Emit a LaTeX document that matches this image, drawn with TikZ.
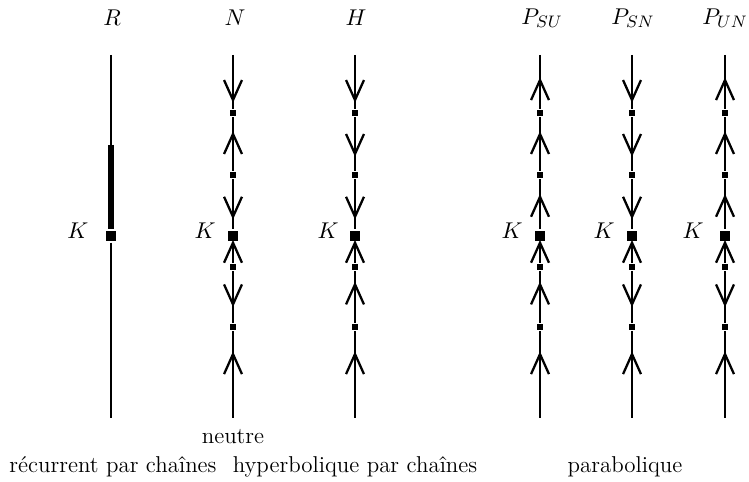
\documentclass[tikz,border=0pt]{standalone}
\usepackage{amsmath}
\usepackage{amsfonts}
\usetikzlibrary{decorations.markings}

\tikzset{
  dn/.style={postaction={decorate, decoration={markings, mark=at position #1 with {\draw[line width=1.1pt] (-4.8pt, 4.3pt) -- (4.8pt, 0pt) -- (-4.8pt, -4.3pt);}}}},
  up/.style={postaction={decorate, decoration={markings, mark=at position #1 with {\draw[line width=1.1pt] (4.8pt, 4.3pt) -- (-4.8pt, 0pt) -- (4.8pt, -4.3pt);}}}},
  dot/.style={fill, inner sep=0pt, minimum size=2.8pt},
  kpt/.style={fill, inner sep=0pt, minimum size=5.2pt}
}

\begin{document}
\begin{tikzpicture}[x = 0.48pt, y = -0.48pt, line width = 1.1pt,
  every node/.style={font=\fontsize{11}{13.5}\selectfont}]
\useasboundingbox (0, 0) rectangle (749, 482);

% R
\coordinate (R-t) at (111, 55);
\coordinate (R-th) at (111, 145);
\node[kpt] (R-K) at (111, 236) {};
\coordinate (R-b) at (111, 418);
\draw (R-t) -- (R-th);
\draw[line width = 2.5pt] (R-th) -- (R-K);
\draw (R-K) -- (R-b);

% N
\coordinate (N-t) at (233, 55);
\node[dot] (N-1) at (233, 113) {};
\node[dot] (N-2) at (233, 175) {};
\node[kpt] (N-K) at (233, 236) {};
\node[dot] (N-3) at (233, 267) {};
\node[dot] (N-4) at (233, 327) {};
\coordinate (N-b) at (233, 418);
\draw (N-t) edge[dn=.65] (N-1) (N-1) edge[up=.5] (N-2) (N-2) edge[dn=.55] (N-K)
      (N-K) edge[up=.5] (N-3) (N-3) edge[dn=.45] (N-4) (N-4) edge[up=.38] (N-b);

% H
\coordinate (H-t) at (355, 55);
\node[dot] (H-1) at (355, 113) {};
\node[dot] (H-2) at (355, 175) {};
\node[kpt] (H-K) at (355, 236) {};
\node[dot] (H-3) at (355, 267) {};
\node[dot] (H-4) at (355, 327) {};
\coordinate (H-b) at (355, 418);
\draw (H-t) edge[dn=.65] (H-1) (H-1) edge[dn=.5] (H-2) (H-2) edge[dn=.55] (H-K)
      (H-K) edge[up=.5] (H-3) (H-3) edge[up=.45] (H-4) (H-4) edge[up=.38] (H-b);

% P_SU
\coordinate (PSU-t) at (540, 55);
\node[dot] (PSU-1) at (540, 113) {};
\node[dot] (PSU-2) at (540, 175) {};
\node[kpt] (PSU-K) at (540, 236) {};
\node[dot] (PSU-3) at (540, 267) {};
\node[dot] (PSU-4) at (540, 327) {};
\coordinate (PSU-b) at (540, 418);
\draw (PSU-t) edge[up=.65] (PSU-1) (PSU-1) edge[up=.5] (PSU-2) (PSU-2) edge[up=.55] (PSU-K)
      (PSU-K) edge[up=.5] (PSU-3) (PSU-3) edge[up=.45] (PSU-4) (PSU-4) edge[up=.38] (PSU-b);

% P_SN
\coordinate (PSN-t) at (632, 55);
\node[dot] (PSN-1) at (632, 113) {};
\node[dot] (PSN-2) at (632, 175) {};
\node[kpt] (PSN-K) at (632, 236) {};
\node[dot] (PSN-3) at (632, 267) {};
\node[dot] (PSN-4) at (632, 327) {};
\coordinate (PSN-b) at (632, 418);
\draw (PSN-t) edge[dn=.65] (PSN-1) (PSN-1) edge[dn=.5] (PSN-2) (PSN-2) edge[dn=.55] (PSN-K)
      (PSN-K) edge[up=.5] (PSN-3) (PSN-3) edge[dn=.45] (PSN-4) (PSN-4) edge[up=.38] (PSN-b);

% P_UN
\coordinate (PUN-t) at (725, 55);
\node[dot] (PUN-1) at (725, 113) {};
\node[dot] (PUN-2) at (725, 175) {};
\node[kpt] (PUN-K) at (725, 236) {};
\node[dot] (PUN-3) at (725, 267) {};
\node[dot] (PUN-4) at (725, 327) {};
\coordinate (PUN-b) at (725, 418);
\draw (PUN-t) edge[up=.65] (PUN-1) (PUN-1) edge[up=.5] (PUN-2) (PUN-2) edge[up=.55] (PUN-K)
      (PUN-K) edge[up=.5] (PUN-3) (PUN-3) edge[dn=.45] (PUN-4) (PUN-4) edge[up=.38] (PUN-b);

\node (R-lab) at (112, 18) {$R$};
\node (N-lab) at (235, 18) {$N$};
\node (H-lab) at (356, 18) {$H$};
\node (PSU-lab) at (542, 18) {$P_{SU}$};
\node (PSN-lab) at (633, 18) {$P_{SN}$};
\node (PUN-lab) at (725, 18) {$P_{UN}$};

\node (R-k) at (78, 231) {$K$};
\node (N-k) at (205, 231) {$K$};
\node (H-k) at (328, 231) {$K$};
\node (PSU-k) at (512, 231) {$K$};
\node (PSN-k) at (604, 231) {$K$};
\node (PUN-k) at (693, 231) {$K$};

\node (neutre) at (233, 437) {neutre};
\node (rec) at (113, 467) {récurrent par chaînes};
\node (hyp) at (355, 467) {hyperbolique par chaînes};
\node (para) at (625, 467) {parabolique};

\end{tikzpicture}
\end{document}
